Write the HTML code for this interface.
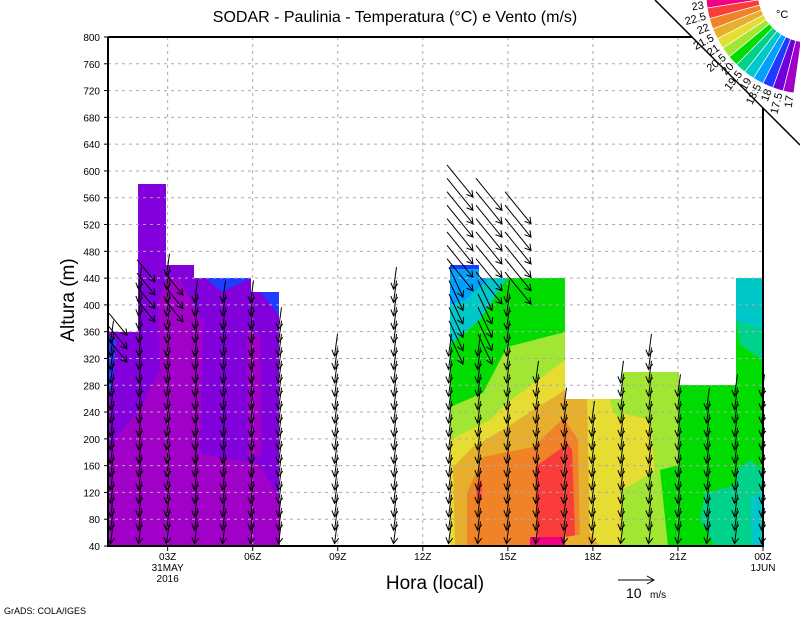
<!DOCTYPE html>
<html><head><meta charset="utf-8"><style>
body{margin:0;background:#fff}
svg{display:block;font-family:"Liberation Sans",sans-serif}
</style></head><body>
<svg id="s" width="800" height="618" viewBox="0 0 800 618" xmlns="http://www.w3.org/2000/svg">
<rect width="800" height="618" fill="#fff"/>
<g>
<path d="M108,332 H138 V184 H166 V265 H194 V278 H251 V292 H279 V546 H108Z" fill="#8200dc"/>
<path d="M110,447 L143,403 L160,370 L158,303 L167,277 L180,280 L203,323 L200,453 L233,460 L260,463 L280,503 L280,546 L108,546Z" fill="#a000c8"/>
<path d="M247,330 L260,335 L262,455 L248,457Z" fill="#a000c8"/>
<path d="M205,278 L251,278 L222,292Z" fill="#1e3cff"/>
<path d="M261,292 L279,292 L279,316Z" fill="#1e3cff"/>
<path d="M108,335 L116,340 L112,392 L108,390Z" fill="#1e3cff"/>
</g>
<g>
<path d="M450,265 H479 V278 H565 V546 H450Z" fill="#00dc00"/>
<path d="M450,265 H479 V278 H507 L480,320 L450,345Z" fill="#00c8c8"/>
<path d="M450,265 H479 V278 H490 L465,300 L450,305Z" fill="#00a0ff"/>
<path d="M450,265 H479 V269 H450Z" fill="#1e3cff"/>
<path d="M450,407 L483,393 L507,347 L565,332 V546 H450Z" fill="#a0e632"/>
<path d="M450,440 L490,420 L507,403 L565,360 V546 H450Z" fill="#e6dc32"/>
<path d="M453,467 L473,447 L507,427 L565,390 V546 H455Z" fill="#e6af2d"/>
<path d="M467,493 L483,457 L533,447 L565,417 V546 H467Z" fill="#f08228"/>
<path d="M537,546 L535,467 L563,447 L565,546Z" fill="#fa3c3c"/>
<path d="M476,484 L482,480 L482,500 L477,500Z" fill="#fa3c3c"/>
<path d="M530,537 L567,537 L567,546 L530,546Z" fill="#f00082"/>
<path d="M565,399 H622 V546 H565Z" fill="#e6dc32"/>
<path d="M565,399 H587 L590,546 H565Z" fill="#e6af2d"/>
<path d="M565,420 L578,440 L580,546 H565Z" fill="#f08228"/>
<path d="M565,440 L572,450 L575,535 L566,540Z" fill="#fa3c3c"/>
<path d="M610,399 H622 V420 L613,412Z" fill="#a0e632"/>
<path d="M565,537 L590,533 L600,546 H565Z" fill="#e6af2d"/>
<path d="M622,372 H679 V546 H622Z" fill="#a0e632"/>
<path d="M622,413 L650,420 L655,470 L640,480 L622,490Z" fill="#e6dc32"/>
<path d="M660,470 L679,465 V546 H668Z" fill="#00dc00"/>
<path d="M679,385 H736 V546 H679Z" fill="#00dc00"/>
<path d="M705,493 L736,485 V546 H715 L700,520Z" fill="#00d28c"/>
<path d="M736,278 H763 V546 H736Z" fill="#00dc00"/>
<path d="M736,278 H763 V330 L736,320Z" fill="#00c8c8"/>
<path d="M736,320 L763,330 V360 L740,345Z" fill="#00d28c"/>
<path d="M736,470 L750,460 L763,470 V546 H736Z" fill="#00d28c"/>
<path d="M750,500 L763,490 V546 H752Z" fill="#00c8c8"/>
</g>
<g id="grid" stroke="#aaa" stroke-dasharray="3,4" stroke-width="1"></g>
<g id="arr" stroke="#000" stroke-width="1" fill="none"></g>
<g stroke="#000" fill="none">
<line x1="108" y1="37" x2="108" y2="547" stroke-width="2"/>
<line x1="107" y1="546" x2="764" y2="546" stroke-width="2"/>
<line x1="108" y1="37" x2="692" y2="37" stroke-width="2"/>
<line x1="763" y1="108" x2="763" y2="546" stroke-width="2"/>
<line x1="655" y1="0" x2="800" y2="145" stroke-width="1.5"/>
</g>
<g id="ticks" stroke="#000"></g>
<g id="cb"></g>
<g font-size="10" fill="#000" id="lbl"></g>
<text x="395" y="22" font-size="16" text-anchor="middle">SODAR - Paulinia - Temperatura (°C) e Vento (m/s)</text>
<text x="0" y="0" font-size="19" text-anchor="middle" transform="translate(74,300) rotate(-90)">Altura (m)</text>
<text x="435" y="589" font-size="19" text-anchor="middle">Hora (local)</text>
<line x1="618" y1="580" x2="654" y2="580" stroke="#000"/>
<path d="M647,576 L654,580 L647,584" stroke="#000" fill="none"/>
<text x="626" y="598" font-size="14">10</text><text x="650" y="598" font-size="10">m/s</text>
<text x="4" y="614" font-size="9">GrADS: COLA/IGES</text>
<text x="776" y="18" font-size="11">°C</text>
</svg>
<script>
const NS="http://www.w3.org/2000/svg";
function el(p,t,a,txt){const e=document.createElementNS(NS,t);for(const k in a)e.setAttribute(k,a[k]);if(txt!==undefined)e.textContent=txt;document.getElementById(p).appendChild(e);return e;}
const Y=h=>546-(h-40)*509/760, X=hr=>82.6+28.35*hr;
for(let h=80;h<=760;h+=40){el('grid','line',{x1:108,x2:763,y1:Y(h),y2:Y(h)});}
[3,6,9,12,15,18,21].forEach(hr=>el('grid','line',{x1:X(hr),x2:X(hr),y1:37,y2:546}));
for(let h=40;h<=800;h+=40){el('lbl','text',{x:100,y:Y(h)+4,'text-anchor':'end'},h);el('ticks','line',{x1:104,x2:108,y1:Y(h),y2:Y(h)});}
const xl=[[3,'03Z'],[6,'06Z'],[9,'09Z'],[12,'12Z'],[15,'15Z'],[18,'18Z'],[21,'21Z'],[24,'00Z']];
xl.forEach(([hr,t])=>{el('lbl','text',{x:X(hr),y:560,'text-anchor':'middle'},t);el('ticks','line',{x1:X(hr),x2:X(hr),y1:546,y2:551});});
el('lbl','text',{x:X(3),y:571,'text-anchor':'middle'},'31MAY');
el('lbl','text',{x:X(3),y:582,'text-anchor':'middle'},'2016');
el('lbl','text',{x:X(24),y:571,'text-anchor':'middle'},'1JUN');
function arrow(cx,cy,dx,dy){const x1=cx-dx/2,y1=cy-dy/2,x2=cx+dx/2,y2=cy+dy/2;
 const L=Math.hypot(dx,dy),ux=dx/L,uy=dy/L,s=6;
 const ax=x2-ux*s,ay=y2-uy*s;
 el('arr','path',{d:`M${x1},${y1} L${x2},${y2} M${ax-uy*3.5},${ay+ux*3.5} L${x2},${y2} L${ax+uy*3.5},${ay-ux*3.5}`});}
const cols=[[112,360],[140,440],[168,460],[196,420],[224,420],[252,420],[280,380],[336,340],[395,440],
[450,340],[479,340],[508,420],[537,300],[565,260],[593,240],[622,300],[650,340],[679,280],[708,260],[736,280],[763,280]];
cols.forEach(([x,top])=>{for(let h=60;h<=top;h+=20){arrow(x,Y(h),-3,22);}});
[[450,460,600],[479,440,580],[508,440,560]].forEach(([x,lo,hi])=>{for(let h=lo;h<=hi;h+=20)arrow(x+10,Y(h)+10,26,32);});
[[140,400,460],[168,400,440],[112,340,380]].forEach(([x,lo,hi])=>{for(let h=lo;h<=hi;h+=20)arrow(x+6,Y(h)+6,18,22);});
[[450,340,440],[479,340,420]].forEach(([x,lo,hi])=>{for(let h=lo;h<=hi;h+=20)arrow(x+6,Y(h)+4,14,30);});
const cols2=['#f00082','#fa3c3c','#f08228','#e6af2d','#e6dc32','#a0e632','#00dc00','#00d28c','#00c8c8','#00a0ff','#1e3cff','#6e00dc','#a000c8'];
const cx=808,cy=-8,r1=50,r2=102,n=13,a0=Math.PI*183/180,a9=Math.PI*262/180;
for(let i=0;i<n;i++){const a1=a0+(a9-a0)*i/n,a2=a0+(a9-a0)*(i+1)/n;
 const p=(r,a)=>[cx+r*Math.cos(a),cy-r*Math.sin(a)];
 const A=p(r1,a1),B=p(r2,a1),C=p(r2,a2),D=p(r1,a2);
 el('cb','path',{d:`M${A} L${B} A${r2},${r2} 0 0 0 ${C} L${D} A${r1},${r1} 0 0 1 ${A}Z`,fill:cols2[i],stroke:'#fff','stroke-width':0.7});}
const labs=['23','22.5','22','21.5','21','20.5','20','19.5','19','18.5','18','17.5','17'];
labs.forEach((t,i)=>{const a=a0+(a9-a0)*(i+1)/n;const r=r2+3;const x=cx+r*Math.cos(a),y=cy-r*Math.sin(a);
 el('cb','text',{x:x,y:y,'font-size':11,'text-anchor':'end',transform:`rotate(${-(a*180/Math.PI-180)},${x},${y})`},t);});
</script>
</body></html>
